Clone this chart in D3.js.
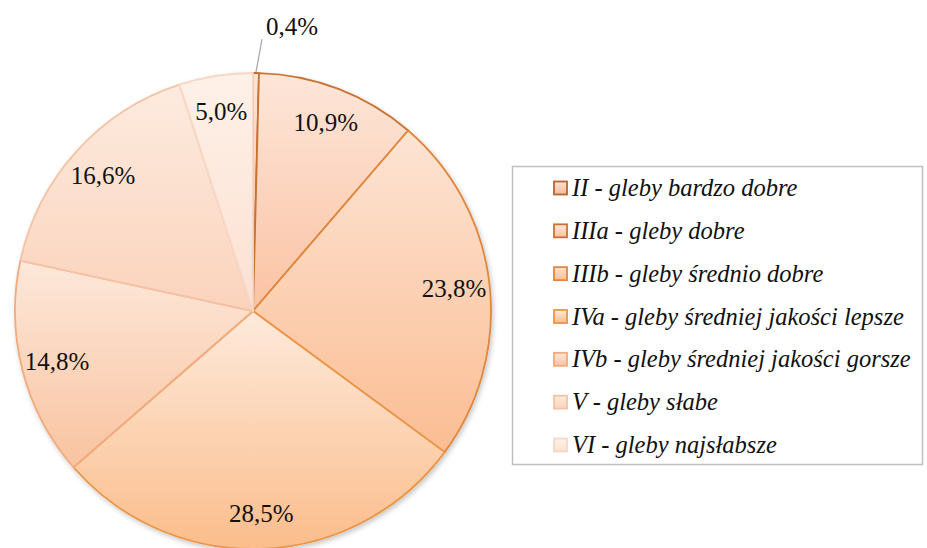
<!DOCTYPE html>
<html>
<head>
<meta charset="utf-8">
<script src="https://cdn.jsdelivr.net/npm/d3@7/dist/d3.min.js"></script>
<style>
  html, body { margin: 0; padding: 0; background: #fff; }
  svg { display: block; }
</style>
</head>
<body>
<svg id="chart" width="927" height="548"></svg>
<script>
// Soil quality classes and their share of the area (%)
const categories = [
  "II - gleby bardzo dobre",
  "IIIa - gleby dobre",
  "IIIb - gleby średnio dobre",
  "IVa - gleby średniej jakości lepsze",
  "IVb - gleby średniej jakości gorsze",
  "V - gleby słabe",
  "VI - gleby najsłabsze"
];
const shares = [0.4, 10.9, 23.8, 28.5, 14.8, 16.6, 5.0];
const shareLabels = ["0,4%", "10,9%", "23,8%", "28,5%", "14,8%", "16,6%", "5,0%"];

// Per-class styling: gradient top / bottom and outline colour
const fillTop    = ["#fde4d6", "#fde6d9", "#fde4d4", "#feeadc", "#fde8da", "#fdebdf", "#fef1e8"];
const fillBottom = ["#f9b896", "#fbc2a3", "#fbbd93", "#fbbd8b", "#f9c3a0", "#fbd3bc", "#fce0d1"];
const strokes    = ["#b8662d", "#c97331", "#e0873a", "#ec9546", "#f1ab7e", "#f4c3a7", "#f7d7c6"];

const svg = d3.select("#chart");
const defs = svg.append("defs");

categories.forEach((c, i) => {
  const g = defs.append("linearGradient")
    .attr("id", "grad" + i)
    .attr("x1", 0).attr("y1", 0).attr("x2", 0).attr("y2", 1);
  g.append("stop").attr("offset", "0%").attr("stop-color", fillTop[i]);
  g.append("stop").attr("offset", "100%").attr("stop-color", fillBottom[i]);
});

const shadow = defs.append("filter").attr("id", "shadow")
  .attr("x", "-10%").attr("y", "-10%").attr("width", "120%").attr("height", "120%");
shadow.append("feDropShadow")
  .attr("dx", 1.5).attr("dy", 2.5).attr("stdDeviation", 2.5)
  .attr("flood-color", "#000").attr("flood-opacity", 0.22);

// Pie geometry
const cx = 253, cy = 311, radius = 238;

const pie = d3.pie().sort(null).value(d => d)(shares);
const arc = d3.arc().innerRadius(0).outerRadius(radius);

const pieG = svg.append("g").attr("transform", `translate(${cx},${cy})`);

pieG.append("g").attr("filter", "url(#shadow)")
  .selectAll("path")
  .data(pie)
  .join("path")
  .attr("d", arc)
  .attr("fill", (d, i) => `url(#grad${i})`)
  .attr("stroke", (d, i) => strokes[i])
  .attr("stroke-width", 1.8)
  .attr("stroke-linejoin", "round");

// Data labels: inside each slice, except the thin one which gets a leader line
const labelFont = "'Liberation Serif', 'Times New Roman', serif";
const labelR = radius * 0.85;

pie.forEach((d, i) => {
  const mid = (d.startAngle + d.endAngle) / 2;
  if (shares[i] < 2) {
    const p0 = [Math.sin(mid) * (radius + 1), -Math.cos(mid) * (radius + 1)];
    const p1 = [p0[0] + 6, p0[1] - 33];
    pieG.append("line")
      .attr("x1", p0[0]).attr("y1", p0[1])
      .attr("x2", p1[0]).attr("y2", p1[1])
      .attr("stroke", "#a6a6a6").attr("stroke-width", 1.2);
    pieG.append("text")
      .attr("x", p1[0] + 4).attr("y", p1[1] - 4)
      .attr("text-anchor", "start")
      .attr("font-family", labelFont).attr("font-size", 25)
      .attr("fill", "#111")
      .text(shareLabels[i]);
  } else {
    pieG.append("text")
      .attr("x", Math.sin(mid) * labelR)
      .attr("y", -Math.cos(mid) * labelR)
      .attr("dy", "0.35em")
      .attr("text-anchor", "middle")
      .attr("font-family", labelFont).attr("font-size", 25)
      .attr("fill", "#111")
      .text(shareLabels[i]);
  }
});

// Legend
const legend = svg.append("g");
legend.append("rect")
  .attr("x", 512.5).attr("y", 166.5)
  .attr("width", 410).attr("height", 298)
  .attr("fill", "#fff")
  .attr("stroke", "#bfbfbf").attr("stroke-width", 1.5);

const rowY = d3.scalePoint().domain(categories).range([188, 445]);

const rows = legend.selectAll("g.row")
  .data(categories)
  .join("g")
  .attr("class", "row")
  .attr("transform", d => `translate(0,${rowY(d)})`);

rows.append("rect")
  .attr("x", 554).attr("y", -6.5)
  .attr("width", 13).attr("height", 13)
  .attr("fill", (d, i) => `url(#grad${i})`)
  .attr("stroke", (d, i) => strokes[i])
  .attr("stroke-width", 1.8);

rows.append("text")
  .attr("x", 572).attr("y", 0)
  .attr("dy", "0.33em")
  .attr("font-family", labelFont)
  .attr("font-style", "italic")
  .attr("font-size", 24.5)
  .attr("fill", "#111")
  .text(d => d);
</script>
</body>
</html>
